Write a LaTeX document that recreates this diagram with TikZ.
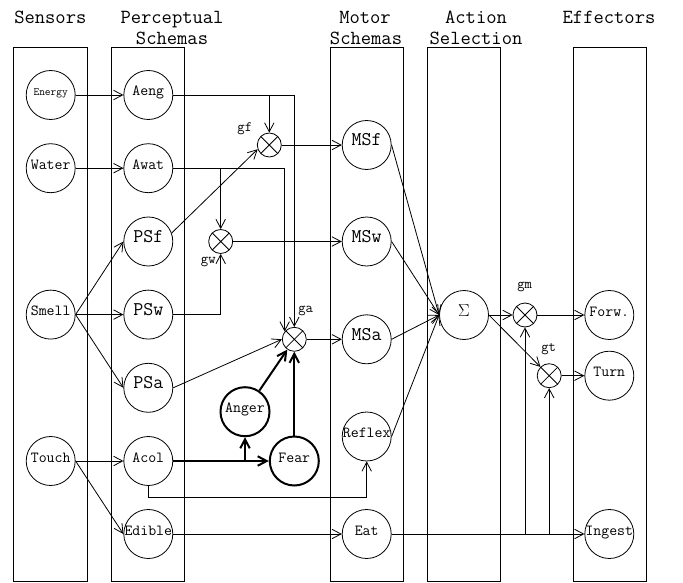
\documentclass[tikz,border=0pt]{standalone}
\usepackage{fontspec}
\usetikzlibrary{arrows.meta}
\begin{document}
\begin{tikzpicture}[x=1pt,y=-1pt, line width=0.8pt,
  >={Straight Barb[length=9pt,width=9.5pt]},
  col/.style={draw, line width=0.9pt},
  unit/.style={circle, draw, minimum size=49pt, inner sep=0pt, text height=6pt, text depth=4pt, font=\ttfamily\fontsize{15.4}{16}\selectfont},
  bigunit/.style={unit, font=\ttfamily\fontsize{19.4}{20}\selectfont},
  emo/.style={unit, line width=2pt},
  mult/.style={circle, draw, minimum size=24pt, inner sep=0pt,
    path picture={\draw[line width=0.8pt] (path picture bounding box.north west) -- (path picture bounding box.south east) (path picture bounding box.north east) -- (path picture bounding box.south west);}},
  gain/.style={font=\ttfamily\fontsize{14.3}{15}\selectfont},
  head/.style={anchor=base, font=\ttfamily\fontsize{20}{21}\selectfont},
  wire/.style={->},
  thickwire/.style={->, line width=2pt},
]
\useasboundingbox (0,0) rectangle (683,583);
% column boxes
\draw[col] (13.3,47.3) rectangle (87.3,581.7);
\draw[col] (111,47.3) rectangle (184.3,581.7);
\draw[col] (330,47.3) rectangle (403.3,581.7);
\draw[col] (427.5,47.3) rectangle (500.7,581.7);
\draw[col] (573.5,47.3) rectangle (646.5,581.7);
% headings
\node[head] (h1) at (50.3,24) {Sensors};
\node[head] (h2a) at (172,24) {Perceptual};
\node[head] (h2b) at (172,44.5) {Schemas};
\node[head] (h3a) at (365,24) {Motor};
\node[head] (h3b) at (366,44.5) {Schemas};
\node[head] (h4a) at (476,24) {Action};
\node[head] (h4b) at (476,44.5) {Selection};
\node[head] (h5) at (609,24) {Effectors};
% sensors
\node[unit, font=\ttfamily\fontsize{11.1}{12}\selectfont] (Energy) at (50.7,95) {\makebox[0pt]{Energy}};
\node[unit] (Water) at (50.7,168.2) {\makebox[0pt]{Water}};
\node[unit] (Smell) at (50.7,314.6) {\makebox[0pt]{Smell}};
\node[unit] (Touch) at (50.7,461) {\makebox[0pt]{Touch}};
% perceptual schemas
\node[unit] (Aeng) at (148.3,95) {\makebox[0pt]{Aeng}};
\node[unit] (Awat) at (148.3,168.2) {\makebox[0pt]{Awat}};
\node[bigunit] (PSf) at (148.3,241.5) {\makebox[0pt]{PSf}};
\node[bigunit] (PSw) at (148.3,314.6) {\makebox[0pt]{PSw}};
\node[bigunit] (PSa) at (148.3,387.8) {\makebox[0pt]{PSa}};
\node[unit] (Acol) at (148.3,461) {\makebox[0pt]{Acol}};
\node[unit] (Edible) at (148.3,534) {\makebox[0pt]{Edible}};
% emotions
\node[emo] (Anger) at (245,411.7) {\makebox[0pt]{Anger}};
\node[emo] (Fear) at (294.3,461) {\makebox[0pt]{Fear}};
% gains
\node[mult] (gf) at (269.3,145) {};
\node[mult] (gw) at (220.7,241.5) {};
\node[mult] (ga) at (294.3,339.3) {};
\node[mult] (gm) at (525,315) {};
\node[mult] (gt) at (549.2,375.7) {};
\node[gain] (lgf) at (244.8,129) {gf};
\node[gain] (lgw) at (208.3,262) {gw};
\node[gain] (lga) at (305.7,311) {ga};
\node[gain] (lgm) at (524.7,287) {gm};
\node[gain] (lgt) at (548.7,349) {gt};
% motor schemas
\node[bigunit] (MSf) at (366.7,145) {\makebox[0pt]{MSf}};
\node[bigunit] (MSw) at (366.7,241.5) {\makebox[0pt]{MSw}};
\node[bigunit] (MSa) at (366.7,339.3) {\makebox[0pt]{MSa}};
\node[unit] (Reflex) at (366.7,436.5) {\makebox[0pt]{Reflex}};
\node[unit] (Eat) at (366.7,534) {\makebox[0pt]{Eat}};
% action selection
\node[unit, font=\fontsize{16}{17}\selectfont] (sum) at (464,315) {\makebox[0pt]{$\Sigma$}};
% effectors
\node[unit] (Forw) at (609.3,315) {\makebox[0pt]{Forw.}};
\node[unit] (Turn) at (609.3,375.7) {\makebox[0pt]{Turn}};
\node[unit] (Ingest) at (609.3,534) {\makebox[0pt]{Ingest}};
% sensors -> perceptual
\draw[wire] (Energy.east) -- (Aeng.west);
\draw[wire] (Water.east) -- (Awat.west);
\draw[wire] (Smell.east) -- (PSf.west);
\draw[wire] (Smell.east) -- (PSw.west);
\draw[wire] (Smell.east) -- (PSa.west);
\draw[wire] (Touch.east) -- (Acol.west);
\draw[wire] (Touch.east) -- (Edible.west);
% perceptual -> gains
\draw[wire] (Aeng.east) -| (ga.north);
\draw[wire] (gf |- Aeng) -- (gf.north);
\draw[wire] (Awat.east) -| (ga.141);
\draw[wire] (gw |- Awat) -- (gw.north);
\draw[wire] (PSf.20) -- (gf.200);
\draw[wire] (PSw.east) -| (gw.south);
\draw[wire] (PSa.east) -- (ga.west);
% emotions
\coordinate (abr) at (Anger |- Acol);
\draw[thickwire] (Acol.east) -- (Fear.west);
\draw[thickwire] (abr) -- (Anger.south);
\draw[thickwire] (Anger) -- (ga);
\draw[thickwire] (Fear.north) -- (ga.south);
% Acol -> Reflex
\coordinate (acb) at (148.3,497.3);
\draw[wire] (Acol.south) -- (acb) -| (Reflex.south);
% gains -> motor schemas
\draw[wire] (gf.east) -- (MSf.west);
\draw[wire] (gw.east) -- (MSw.west);
\draw[wire] (ga.east) -- (MSa.west);
% motor schemas -> sum
\draw[wire] (MSf.east) -- (sum.west);
\draw[wire] (MSw.east) -- (sum.west);
\draw[wire] (MSa.east) -- (sum.west);
\draw[wire] (Reflex.east) -- (sum.west);
% sum -> gains -> effectors
\draw[wire] (sum.east) -- (gm.west);
\draw[wire] (sum.east) -- (gt.135);
\draw[wire] (gm.east) -- (Forw.west);
\draw[wire] (gt.east) -- (Turn.west);
% eating
\draw[wire] (Edible.east) -- (Eat.west);
\draw[wire] (Eat.east) -- (Ingest.west);
\coordinate (bm) at (gm |- Eat);
\coordinate (bt) at (gt |- Eat);
\draw[wire] (bm) -- (gm.south);
\draw[wire] (bt) -- (gt.south);
\end{tikzpicture}
\end{document}
